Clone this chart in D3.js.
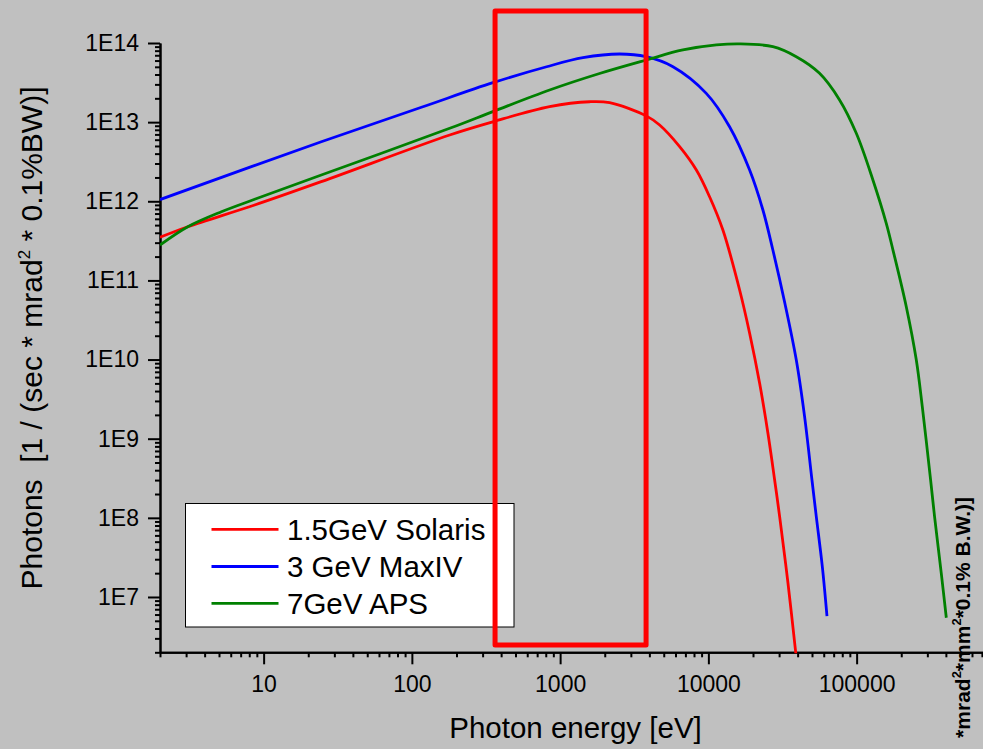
<!DOCTYPE html>
<html>
<head>
<meta charset="utf-8">
<script src="https://cdn.jsdelivr.net/npm/d3@7"></script>
<style>
  html, body { margin: 0; padding: 0; background: #c0c0c0; }
  svg { display: block; font-family: "Liberation Sans", Arial, sans-serif; }
  text { white-space: pre; }
</style>
</head>
<body>
<svg id="chart" width="983" height="749"></svg>
<script>
// ---------- data ----------
const seriesNames = ["1.5GeV Solaris", "3 GeV MaxIV", "7GeV APS"];
const seriesColors = ["#ff0000", "#0000ff", "#008000"];

const solarisEnergy = [2, 3.08, 8.7, 24.5, 180, 352, 849, 1581, 2158, 3811, 4690, 6400, 8300, 10190, 12530, 16250, 18980, 22170, 25220, 27990, 30270, 34440, 39000];
const solarisFlux   = [3.51e11, 4.77e11, 8.97e11, 1.77e12, 6.88e12, 1.01e13, 1.57e13, 1.81e13, 1.76e13, 1.20e13, 9.2e12, 4.90e12, 2.48e12, 1.14e12, 4.33e11, 7.57e10, 2.15e10, 5.01e9, 1.17e9, 3.01e8, 1.03e8, 1.49e7, 1.85e6];

const maxivEnergy = [2, 24.5, 116, 352, 811, 1426, 2518, 3811, 5770, 9680, 13900, 18980, 23330, 27230, 32810, 39180, 44570, 49980, 53480, 58700, 63100];
const maxivFlux   = [1.05e12, 5.66e12, 1.54e13, 3.15e13, 5.01e13, 6.52e13, 7.26e13, 6.71e13, 5.01e13, 2.31e13, 8.75e12, 2.48e12, 7.76e11, 2.42e11, 5.14e10, 9.86e9, 1.90e9, 3.01e8, 1.03e8, 2.42e7, 5.75e6];

const apsEnergy = [2, 3.08, 5.19, 8.7, 24.5, 180, 352, 849, 1845, 3811, 6730, 11320, 16250, 27230, 39180, 56230, 76740, 99500, 128800, 158500, 175900, 216300, 252700, 277300, 315500, 335700, 372500, 402700];
const apsFlux   = [2.80e11, 4.77e11, 7.38e11, 1.06e12, 2.15e12, 8.36e12, 1.36e13, 2.55e13, 4.12e13, 6.10e13, 8.16e13, 9.44e13, 9.75e13, 8.98e13, 6.71e13, 4.14e13, 1.91e13, 7.23e12, 1.86e12, 5.27e11, 2.42e11, 4.66e10, 9.86e9, 2.54e9, 3.01e8, 1.03e8, 1.99e7, 5.47e6];

const energyTicks = [10, 100, 1000, 10000, 100000];
const energyTickLabels = ["10", "100", "1000", "10000", "100000"];
const fluxTicks = [1e7, 1e8, 1e9, 1e10, 1e11, 1e12, 1e13, 1e14];
const fluxTickLabels = ["1E7", "1E8", "1E9", "1E10", "1E11", "1E12", "1E13", "1E14"];

const energyDomain = [2, 1e6];
const fluxDomain = [2e6, 1e14];

// highlighted region (red box) in data coordinates
const boxEnergy = [364, 3800];
const boxFlux = [2.48e6, 2.54e14];

const xTitle = "Photon energy [eV]";
const yTitleParts = ["Photons  [1 / (sec * mrad", "2", " * 0.1%BW)]"];
const rightTitleParts = ["*mrad", "2", "*mm", "2", "*0.1% B.W.)]"];

// ---------- layout ----------
const svg = d3.select("#chart");
const W = 983, H = 749;
const plotLeft = 160, plotTop = 43, plotBottom = 652.3;
const decade = 148.25;

const x = d3.scaleLog().domain(energyDomain)
  .range([plotLeft, plotLeft + decade * Math.log10(energyDomain[1] / energyDomain[0])]);
const y = d3.scaleLog().domain(fluxDomain).range([plotBottom, plotTop]);

svg.append("rect").attr("width", W).attr("height", H).attr("fill", "#c0c0c0");

svg.append("defs").append("clipPath").attr("id", "plotclip")
  .append("rect").attr("x", plotLeft).attr("y", 0).attr("width", W - plotLeft).attr("height", plotBottom + 1);

// minor tick values
const minorX = [];
for (let k = 0; k <= 5; k++) for (let m = 2; m <= 9; m++) minorX.push(m * Math.pow(10, k));
const minorY = [];
for (let k = 6; k <= 13; k++) for (let m = 2; m <= 9; m++) { const v = m * Math.pow(10, k); if (v >= fluxDomain[0]) minorY.push(v); }

// ---------- axes ----------
const xMinor = svg.append("g").attr("transform", `translate(0,${plotBottom})`)
  .call(d3.axisBottom(x).tickValues(minorX).tickSize(5).tickSizeOuter(0).tickFormat(""));
const xMajor = svg.append("g").attr("transform", `translate(0,${plotBottom})`)
  .call(d3.axisBottom(x).tickValues(energyTicks).tickSize(12).tickSizeOuter(0).tickPadding(11)
    .tickFormat((d, i) => energyTickLabels[i]));

const yMinor = svg.append("g").attr("transform", `translate(${plotLeft},0)`)
  .call(d3.axisLeft(y).tickValues(minorY).tickSize(5).tickSizeOuter(0).tickFormat(""));
const yMajor = svg.append("g").attr("transform", `translate(${plotLeft},0)`)
  .call(d3.axisLeft(y).tickValues(fluxTicks).tickSize(12).tickSizeOuter(0).tickPadding(9)
    .tickFormat((d, i) => fluxTickLabels[i]));

[xMinor, xMajor, yMinor, yMajor].forEach(g => {
  g.selectAll("path.domain").attr("stroke", "#000").attr("stroke-width", 2);
  g.selectAll(".tick line").attr("stroke", "#000").attr("stroke-width", 2);
  g.selectAll(".tick text").attr("fill", "#000").attr("font-size", 23)
    .attr("font-family", "Liberation Sans, Arial, sans-serif");
});

// ---------- curves ----------
const series = [
  { name: seriesNames[0], color: seriesColors[0], e: solarisEnergy, f: solarisFlux },
  { name: seriesNames[1], color: seriesColors[1], e: maxivEnergy, f: maxivFlux },
  { name: seriesNames[2], color: seriesColors[2], e: apsEnergy, f: apsFlux }
];
const line = d3.line().x(d => x(d[0])).y(d => y(d[1])).curve(d3.curveCatmullRom.alpha(0.5));
const curves = svg.append("g").attr("clip-path", "url(#plotclip)");
series.forEach(s => {
  curves.append("path")
    .datum(s.e.map((e, i) => [e, s.f[i]]))
    .attr("d", line)
    .attr("fill", "none")
    .attr("stroke", s.color)
    .attr("stroke-width", 2.8)
    .attr("stroke-linejoin", "round");
});

// ---------- legend ----------
const legend = svg.append("g");
legend.append("rect").attr("x", 185.5).attr("y", 503.5).attr("width", 328.5).attr("height", 123.5)
  .attr("fill", "#fff").attr("stroke", "#000").attr("stroke-width", 1);
const rowY = [529.3, 566.5, 603.3];
series.forEach((s, i) => {
  legend.append("line").attr("x1", 211.5).attr("x2", 278.5).attr("y1", rowY[i]).attr("y2", rowY[i])
    .attr("stroke", s.color).attr("stroke-width", 2.8);
  legend.append("text").attr("x", 287).attr("y", rowY[i] + 10.5)
    .attr("font-size", 29.5).attr("fill", "#000").text(s.name);
});

// ---------- highlight box ----------
svg.append("rect")
  .attr("x", x(boxEnergy[0])).attr("y", y(boxFlux[1]))
  .attr("width", x(boxEnergy[1]) - x(boxEnergy[0]))
  .attr("height", y(boxFlux[0]) - y(boxFlux[1]))
  .attr("fill", "none").attr("stroke", "#ff0000").attr("stroke-width", 5)
  .attr("stroke-linejoin", "round");

// ---------- titles ----------
svg.append("text").attr("x", 575.5).attr("y", 738).attr("text-anchor", "middle")
  .attr("font-size", 29.5).attr("fill", "#000").text(xTitle);

const yt = svg.append("text").attr("transform", "translate(41.7,338) rotate(-90)")
  .attr("text-anchor", "middle").attr("font-size", 30).attr("fill", "#000");
yt.append("tspan").text(yTitleParts[0]);
yt.append("tspan").attr("font-size", 17).attr("dy", -12).text(yTitleParts[1]);
yt.append("tspan").attr("dy", 12).text(yTitleParts[2]);

const rt = svg.append("text").attr("transform", "translate(969.5,497) rotate(-90)")
  .attr("text-anchor", "end").attr("font-size", 21).attr("font-weight", "bold").attr("fill", "#000");
rt.append("tspan").text(rightTitleParts[0]);
rt.append("tspan").attr("font-size", 13).attr("dy", -9).text(rightTitleParts[1]);
rt.append("tspan").attr("dy", 9).text(rightTitleParts[2]);
rt.append("tspan").attr("font-size", 13).attr("dy", -9).text(rightTitleParts[3]);
rt.append("tspan").attr("dy", 9).text(rightTitleParts[4]);
</script>
</body>
</html>
